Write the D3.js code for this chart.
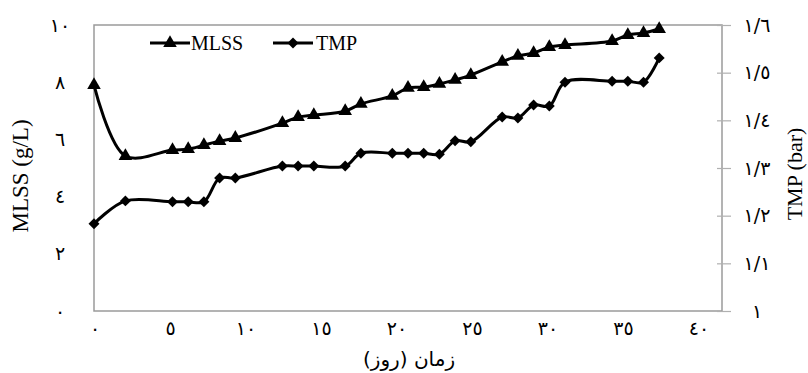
<!DOCTYPE html>
<html>
<head>
<meta charset="utf-8">
<script src="https://cdn.jsdelivr.net/npm/d3@7"></script>
<style>
  body { margin: 0; background: #fff; }
  svg { display: block; }
  .lat { font-family: "Liberation Serif", "Times New Roman", serif; fill: #000; }
  .ar { font-family: "DejaVu Sans", sans-serif; fill: #000; }
</style>
</head>
<body>
<svg id="chart" width="808" height="373"></svg>
<script>
// days of operation
const days = [0, 2, 5, 6, 7, 8, 9, 12, 13, 14, 16, 17, 19, 20, 21, 22, 23, 24, 26, 27, 28, 29, 30, 33, 34, 35, 36];
// MLSS (g/L)
const mlss = [7.9, 5.42, 5.63, 5.66, 5.8, 5.94, 6.05, 6.57, 6.78, 6.85, 6.99, 7.24, 7.52, 7.8, 7.83, 7.94, 8.08, 8.25, 8.71, 8.92, 9.02, 9.23, 9.3, 9.44, 9.65, 9.72, 9.86];
// TMP (bar)
const tmp = [1.183, 1.231, 1.229, 1.229, 1.229, 1.279, 1.279, 1.304, 1.304, 1.304, 1.304, 1.331, 1.331, 1.331, 1.331, 1.329, 1.357, 1.355, 1.407, 1.405, 1.432, 1.43, 1.48, 1.482, 1.482, 1.48, 1.531];

const xTicks = [0, 5, 10, 15, 20, 25, 30, 35, 40];
const yLeftTicks = [0, 2, 4, 6, 8, 10];
const yRightTicks = [1, 1.1, 1.2, 1.3, 1.4, 1.5, 1.6];

// western digits -> arabic-indic, decimal point -> slash
const fa = v => String(+v.toFixed(1)).replace(/[0-9]/g, d => String.fromCharCode(0x0660 + +d)).replace('.', '/');

const svg = d3.select('#chart');
const plot = { left: 94, right: 722, top: 25, bottom: 311 };

const x = d3.scaleLinear().domain([0, 40]).range([plot.left, plot.right]);
// the printed day labels sit a little off the data grid
const xLab = d3.scaleLinear().domain([0, 40]).range([95, 699]);
const yL = d3.scaleLinear().domain([0, 10]).range([plot.bottom, plot.top]);
const yR = d3.scaleLinear().domain([1, 1.6]).range([plot.bottom, plot.top]);

// frame
svg.append('rect')
  .attr('x', plot.left).attr('y', plot.top)
  .attr('width', plot.right - plot.left).attr('height', plot.bottom - plot.top)
  .attr('fill', 'none').attr('stroke', '#9a9a9a').attr('stroke-width', 1.5);

// right axis ticks
const rAxis = svg.append('g')
  .attr('transform', `translate(${plot.right - 5},0)`)
  .call(d3.axisRight(yR).tickValues(yRightTicks).tickSize(14).tickFormat(''));
rAxis.select('.domain').remove();
rAxis.selectAll('line').attr('stroke', '#b0b0b0').attr('stroke-width', 1.2);

// tick labels
svg.append('g').selectAll('text').data(yLeftTicks).join('text')
  .attr('class', 'ar').attr('x', 60).attr('y', d => yL(d)).attr('dy', '0.35em')
  .attr('text-anchor', 'middle').attr('font-size', 19).text(fa);

svg.append('g').selectAll('text').data(yRightTicks).join('text')
  .attr('class', 'ar').attr('x', 757).attr('y', d => yR(d)).attr('dy', '0.35em')
  .attr('text-anchor', 'middle').attr('font-size', 19).text(fa);

svg.append('g').selectAll('text').data(xTicks).join('text')
  .attr('class', 'ar').attr('x', d => xLab(d)).attr('y', 328).attr('dy', '0.35em')
  .attr('text-anchor', 'middle').attr('font-size', 19).text(fa);

// titles
svg.append('text').attr('class', 'lat')
  .attr('transform', 'translate(28,176) rotate(-90)')
  .attr('text-anchor', 'middle').attr('font-size', 23).text('MLSS (g/L)');
svg.append('text').attr('class', 'lat')
  .attr('transform', 'translate(802,174) rotate(-90)')
  .attr('text-anchor', 'middle').attr('font-size', 22).text('TMP (bar)');
svg.append('text').attr('class', 'ar')
  .attr('x', 409).attr('y', 366).attr('direction', 'rtl')
  .attr('text-anchor', 'middle').attr('font-size', 20).text('زمان (روز)');

// series
const mlssData = days.map((d, i) => ({ d, v: mlss[i] }));
const tmpData = days.map((d, i) => ({ d, v: tmp[i] }));

const lineL = d3.line().x(p => x(p.d)).y(p => yL(p.v)).curve(d3.curveCatmullRom.alpha(0.5));
const lineR = d3.line().x(p => x(p.d)).y(p => yR(p.v)).curve(d3.curveCatmullRom.alpha(0.5));

svg.append('path').datum(mlssData).attr('d', lineL)
  .attr('fill', 'none').attr('stroke', '#000').attr('stroke-width', 3);
svg.append('path').datum(tmpData).attr('d', lineR)
  .attr('fill', 'none').attr('stroke', '#000').attr('stroke-width', 3);

const tri = d3.symbol().type(d3.symbolTriangle).size(80);
const dia = d3.symbol().type(d3.symbolSquare).size(60);

svg.append('g').selectAll('path').data(mlssData).join('path')
  .attr('d', tri).attr('transform', p => `translate(${x(p.d)},${yL(p.v)})`).attr('fill', '#000');
svg.append('g').selectAll('path').data(tmpData).join('path')
  .attr('d', dia).attr('transform', p => `translate(${x(p.d)},${yR(p.v)}) rotate(45)`).attr('fill', '#000');

// legend
const legend = svg.append('g');
legend.append('line').attr('x1', 150).attr('x2', 190).attr('y1', 43).attr('y2', 43)
  .attr('stroke', '#000').attr('stroke-width', 3);
legend.append('path').attr('d', tri).attr('transform', 'translate(170,43)');
legend.append('text').attr('class', 'lat').attr('x', 191).attr('y', 50).attr('font-size', 20).text('MLSS');
legend.append('line').attr('x1', 273).attr('x2', 313).attr('y1', 43).attr('y2', 43)
  .attr('stroke', '#000').attr('stroke-width', 3);
legend.append('path').attr('d', dia).attr('transform', 'translate(293,43) rotate(45)');
legend.append('text').attr('class', 'lat').attr('x', 316).attr('y', 50).attr('font-size', 20).text('TMP');
</script>
</body>
</html>
